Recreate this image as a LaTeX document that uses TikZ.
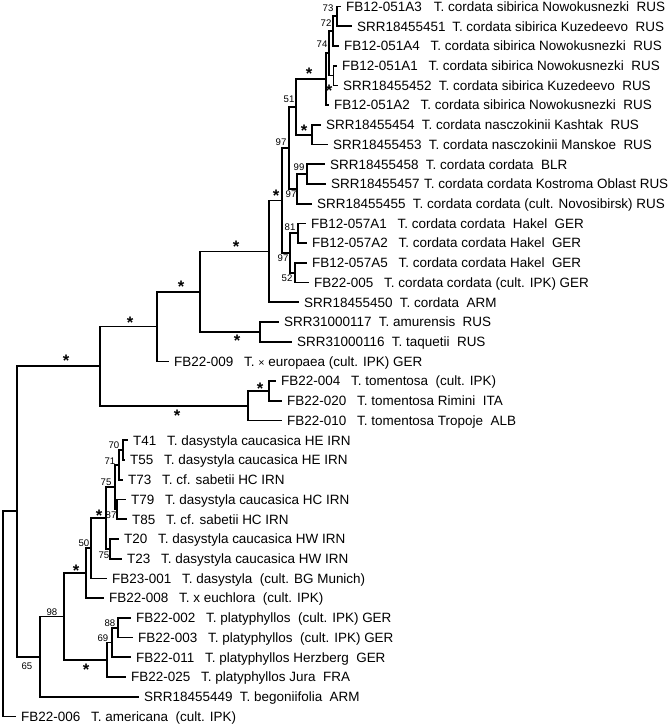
\documentclass[tikz,border=0pt]{standalone}
\usepackage{fontspec}
\setmainfont{Liberation Sans}
\newcommand{\idg}{\hspace{0.8em}}
\newcommand{\srg}{\hspace{0.55em}}
\begin{document}
\begin{tikzpicture}[x=0.75pt,y=-14.79pt,
  branch/.style={line width=1.3pt},
  taxon/.style={anchor=west,inner xsep=3.7pt,inner ysep=0pt,text height=0.72em,text depth=0pt,
    font=\fontsize{10.1}{12}\selectfont},
  supp/.style={inner sep=0pt,font=\fontsize{7.2}{8}\selectfont},
  sig/.style={inner sep=0pt,yshift=-2pt,font=\bfseries\fontsize{12.5}{12}\selectfont}]

  \useasboundingbox (0,0.6704) rectangle (669,37.587);

  % ---------- internal nodes (x in px, y in rows) ----------
  \coordinate (n73)    at (337,1.5);
  \coordinate (n72)    at (333,2.25);
  \coordinate (n4a)    at (333.5,4.5);
  \coordinate (n74)    at (329,3.375);
  \coordinate (nsib)   at (326,4.6875);
  \coordinate (nnas)   at (312,7.5);
  \coordinate (n51)    at (296,6.094);
  \coordinate (n99)    at (307,9.5);
  \coordinate (n97b)   at (297,10.25);
  \coordinate (n97a)   at (289,8.172);
  \coordinate (n81)    at (298,12.5);
  \coordinate (n52)    at (295,14.5);
  \coordinate (n97c)   at (290,13.5);
  \coordinate (ncin)   at (282,10.836);
  \coordinate (ncor)   at (269,13.418);
  \coordinate (namt)   at (260,17.5);
  \coordinate (ncam)   at (200,15.459);
  \coordinate (neur)   at (157,17.23);
  \coordinate (ntom1)  at (269,20.5);
  \coordinate (ntom)   at (248,21.25);
  \coordinate (nnorth) at (100,19.24);
  \coordinate (n70)    at (123,23.5);
  \coordinate (n71)    at (119,24.25);
  \coordinate (n87)    at (117,26.5);
  \coordinate (n75a)   at (115,25.375);
  \coordinate (n75b)   at (110,28.5);
  \coordinate (ndas)   at (106,26.94);
  \coordinate (n50)    at (91,28.47);
  \coordinate (ndas2)  at (86,29.73);
  \coordinate (n88)    at (118,32.5);
  \coordinate (n69)    at (112,33.25);
  \coordinate (nplat)  at (107,34.125);
  \coordinate (n98)    at (64,31.93);
  \coordinate (n65)    at (40,33.97);
  \coordinate (nsouth) at (17,26.6);
  \coordinate (root)   at (3,31.8);

  % ---------- taxa ----------
  \node[taxon] (t1)  at (341,1)  {FB12-051A3\hspace{0.9em}T. cordata sibirica Nowokusnezki~~RUS};
  \node[taxon] (t2)  at (352,2)  {SRR18455451\hspace{0.5em}T. cordata sibirica Kuzedeevo~~RUS};
  \node[taxon] (t3)  at (339,3)  {FB12-051A4\idg T. cordata sibirica Nowokusnezki~~RUS};
  \node[taxon] (t4)  at (337,4)  {FB12-051A1\idg T. cordata sibirica Nowokusnezki~~RUS};
  \node[taxon] (t5)  at (338,5)  {SRR18455452\srg T. cordata sibirica Kuzedeevo~~RUS};
  \node[taxon] (t6)  at (329,6)  {FB12-051A2\idg T. cordata sibirica Nowokusnezki~~RUS};
  \node[taxon] (t7)  at (321,7)  {SRR18455454\srg T. cordata nasczokinii Kashtak~~RUS};
  \node[taxon] (t8)  at (328,8)  {SRR18455453\srg T. cordata nasczokinii Manskoe~~RUS};
  \node[taxon] (t9)  at (325,9)  {SRR18455458\srg T. cordata cordata~~BLR};
  \node[taxon] (t10) at (326,10) {SRR18455457\hspace{0.35em}T. cordata cordata Kostroma Oblast RUS};
  \node[taxon] (t11) at (312,11) {SRR18455455\srg T. cordata cordata (cult. Novosibirsk) RUS};
  \node[taxon] (t12) at (306,12) {FB12-057A1\idg T. cordata cordata~~Hakel~~GER};
  \node[taxon] (t13) at (307,13) {FB12-057A2\idg T. cordata cordata Hakel~~GER};
  \node[taxon] (t14) at (307,14) {FB12-057A5\idg T. cordata cordata Hakel~~GER};
  \node[taxon] (t15) at (309,15) {FB22-005\idg T. cordata cordata (cult. IPK) GER};
  \node[taxon] (t16) at (299,16) {SRR18455450\srg T. cordata~~ARM};
  \node[taxon] (t17) at (279,17) {SRR31000117\srg T. amurensis~~RUS};
  \node[taxon] (t18) at (292,18) {SRR31000116\srg T. taquetii~~RUS};
  \node[taxon] (t19) at (169,19) {FB22-009\idg T. {\footnotesize×} europaea (cult. IPK) GER};
  \node[taxon] (t20) at (276,20) {FB22-004\idg T. tomentosa~~(cult. IPK)};
  \node[taxon] (t21) at (282,21) {FB22-020\idg T. tomentosa Rimini~~ITA};
  \node[taxon] (t22) at (282,22) {FB22-010\idg T. tomentosa Tropoje~~ALB};
  \node[taxon] (t23) at (128,23) {T41\idg T. dasystyla caucasica HE IRN};
  \node[taxon] (t24) at (125,24) {T55\idg T. dasystyla caucasica HE IRN};
  \node[taxon] (t25) at (123,25) {T73\idg T. cf. sabetii HC IRN};
  \node[taxon] (t26) at (126,26) {T79\idg T. dasystyla caucasica HC IRN};
  \node[taxon] (t27) at (127,27) {T85\idg T. cf. sabetii HC IRN};
  \node[taxon] (t28) at (119,28) {T20\idg T. dasystyla caucasica HW IRN};
  \node[taxon] (t29) at (122,29) {T23\idg T. dasystyla caucasica HW IRN};
  \node[taxon] (t30) at (107,30) {FB23-001\idg T. dasystyla~~(cult. BG Munich)};
  \node[taxon] (t31) at (104,31) {FB22-008\idg T. x euchlora~~(cult. IPK)};
  \node[taxon] (t32) at (131,32) {FB22-002\idg T. platyphyllos~~(cult. IPK) GER};
  \node[taxon] (t33) at (133,33) {FB22-003\idg T. platyphyllos~~(cult. IPK) GER};
  \node[taxon] (t34) at (131,34) {FB22-011\idg T. platyphyllos Herzberg~~GER};
  \node[taxon] (t35) at (126,35) {FB22-025\idg T. platyphyllos Jura~~FRA};
  \node[taxon] (t36) at (139,36) {SRR18455449\srg T. begoniifolia~~ARM};
  \node[taxon] (t37) at (16,37)  {FB22-006\idg T. americana~~(cult. IPK)};

  % ---------- branches ----------
  \foreach \p/\c in {n73/t1.west,n73/t2.west,n72/n73,n72/t3.west,n4a/t4.west,n4a/t5.west,
      n74/n72,n74/n4a,nsib/n74,nsib/t6.west,nnas/t7.west,nnas/t8.west,n51/nsib,n51/nnas,
      n99/t9.west,n99/t10.west,n97b/n99,n97b/t11.west,n97a/n51,n97a/n97b,
      n81/t12.west,n81/t13.west,n52/t14.west,n52/t15.west,n97c/n81,n97c/n52,
      ncin/n97a,ncin/n97c,ncor/ncin,ncor/t16.west,namt/t17.west,namt/t18.west,
      ncam/ncor,ncam/namt,neur/ncam,neur/t19.west,ntom1/t20.west,ntom1/t21.west,
      ntom/ntom1,ntom/t22.west,nnorth/neur,nnorth/ntom,
      n70/t23.west,n70/t24.west,n71/n70,n71/t25.west,n87/t26.west,n87/t27.west,
      n75a/n71,n75a/n87,n75b/t28.west,n75b/t29.west,ndas/n75a,ndas/n75b,
      n50/ndas,n50/t30.west,ndas2/n50,ndas2/t31.west,n88/t32.west,n88/t33.west,
      n69/n88,n69/t34.west,nplat/n69,nplat/t35.west,n98/ndas2,n98/nplat,
      n65/n98,n65/t36.west,nsouth/nnorth,nsouth/n65,root/nsouth,root/t37.west}
    \draw[branch] (\p) |- (\c);

  % ---------- support values ----------
  \node[supp] (s73)  at (328,1.076) {73};
  \node[supp] (s72)  at (326,1.837) {72};
  \node[supp] (s74)  at (322,2.902) {74};
  \node[supp] (s51)  at (289,5.691) {51};
  \node[supp] (s97a) at (281,7.871) {97};
  \node[supp] (s99)  at (299,9.139) {99};
  \node[supp] (s97b) at (291,10.508) {97};
  \node[supp] (s81)  at (290,12.18) {81};
  \node[supp] (s97c) at (283,13.75) {97};
  \node[supp] (s52)  at (287,14.77) {52};
  \node[supp] (s70)  at (114,23.24) {70};
  \node[supp] (s71)  at (110,24.05) {71};
  \node[supp] (s75a) at (106,25.11) {75};
  \node[supp] (s87)  at (111,26.79) {87};
  \node[supp] (s75b) at (104,28.81) {75};
  \node[supp] (s50)  at (84,28.21) {50};
  \node[supp] (s98)  at (52,31.70) {98};
  \node[supp] (s88)  at (110,32.26) {88};
  \node[supp] (s69)  at (103,33.02) {69};
  \node[supp] (s65)  at (27,34.44) {65};

  % ---------- fully supported ----------
  \node[sig] (x4a)    at (329,5.133) {*};
  \node[sig] (xsib)   at (309,4.271) {*};
  \node[sig] (xnas)   at (304,7.161) {*};
  \node[sig] (xcin)   at (276,10.457) {*};
  \node[sig] (xcor)   at (236,13.04) {*};
  \node[sig] (xcam)   at (181,15.07) {*};
  \node[sig] (xamt)   at (237,17.81) {*};
  \node[sig] (xeur)   at (130,16.90) {*};
  \node[sig] (xnorth) at (66,18.82) {*};
  \node[sig] (xtom1)  at (260,20.24) {*};
  \node[sig] (xtom)   at (177,21.61) {*};
  \node[sig] (xdas)   at (99,26.68) {*};
  \node[sig] (xdas2)  at (76,29.47) {*};
  \node[sig] (xplat)  at (86,34.49) {*};

\end{tikzpicture}
\end{document}
